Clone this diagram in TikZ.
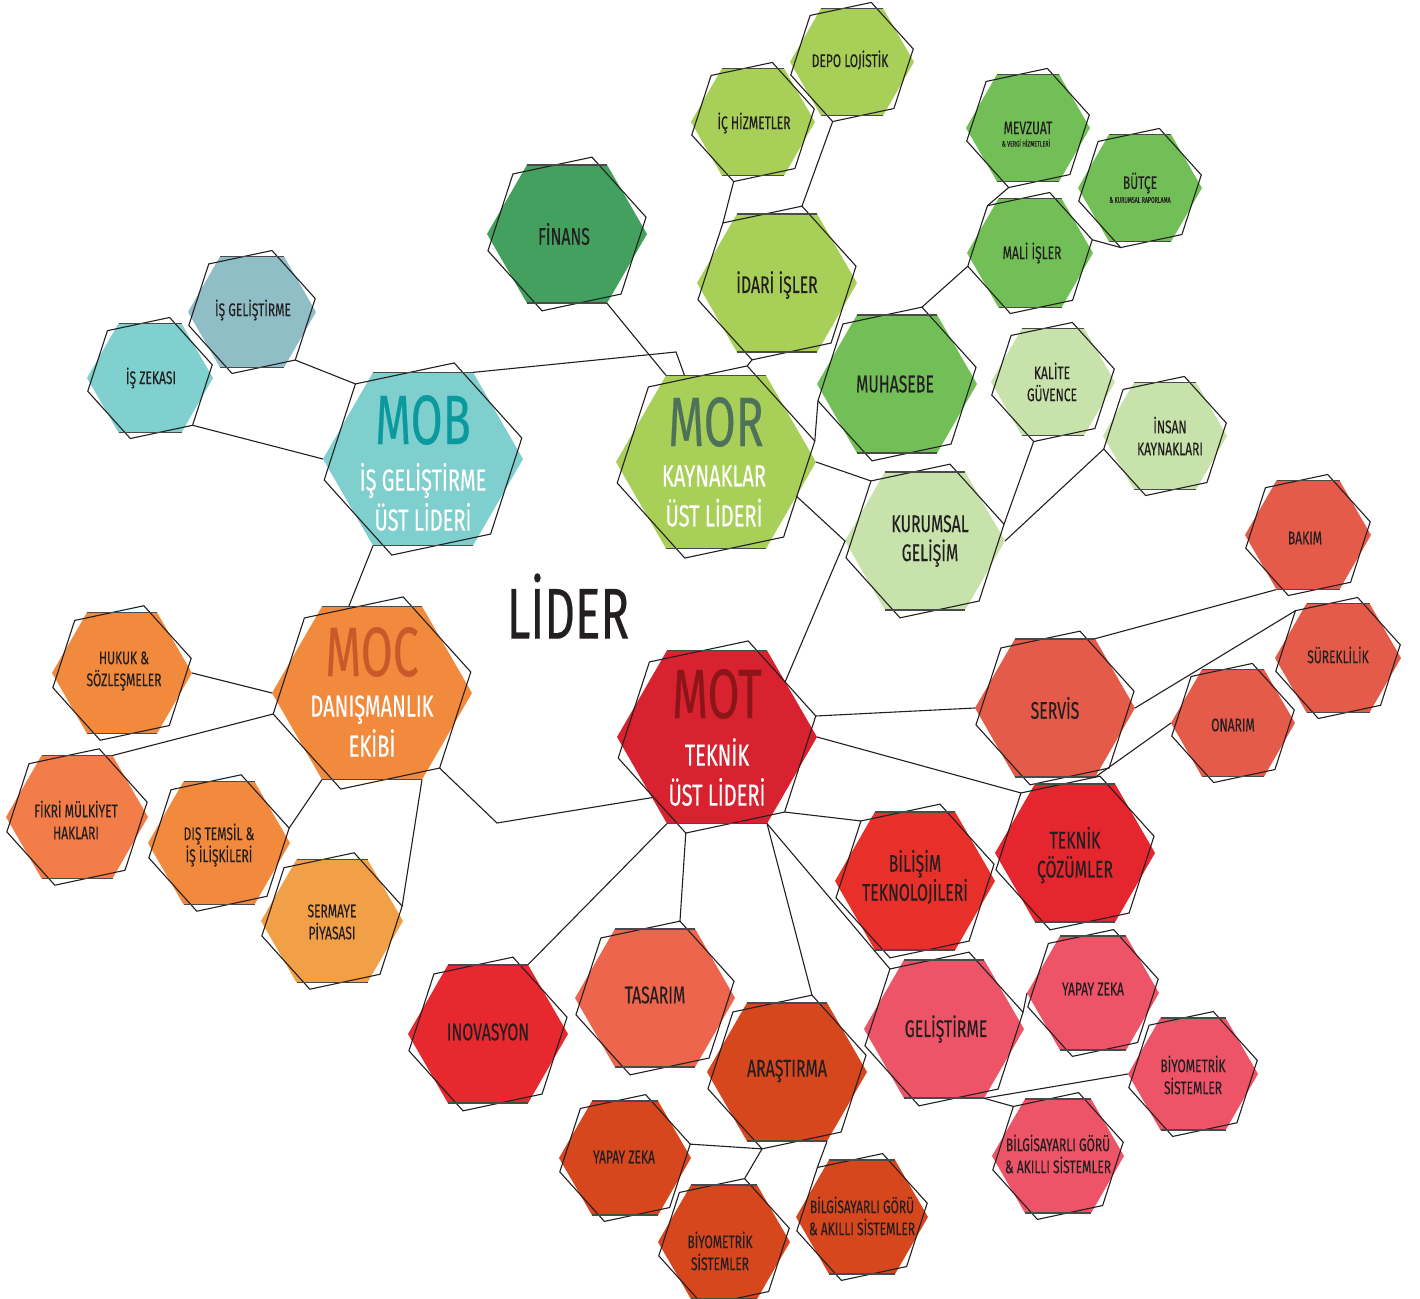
\documentclass[tikz,border=0pt]{standalone}
\usepackage{fontspec}
\setmainfont{Fira Sans}[FakeStretch=0.66,FakeBold=0.3]
\usetikzlibrary{shapes.geometric,calc}
\definecolor{ink}{HTML}{231F20}
\definecolor{edgegray}{HTML}{4A4A4A}
\definecolor{mobc}{HTML}{7FCFCF}
\definecolor{mobdark}{HTML}{0A9A9E}
\definecolor{tealc}{HTML}{80D0D0}
\definecolor{isgelc}{HTML}{8FBEC6}
\definecolor{limec}{HTML}{A8CF58}
\definecolor{mordark}{HTML}{4E7159}
\definecolor{finansc}{HTML}{43A05E}
\definecolor{greenc}{HTML}{72BF57}
\definecolor{paleg}{HTML}{C8E2AB}
\definecolor{orangec}{HTML}{F28A3D}
\definecolor{mocdark}{HTML}{C9582A}
\definecolor{fikric}{HTML}{F27D49}
\definecolor{sermc}{HTML}{F2A048}
\definecolor{motc}{HTML}{D8222F}
\definecolor{motdark}{HTML}{8B1518}
\definecolor{servc}{HTML}{E55B4A}
\definecolor{teknikc}{HTML}{E5262E}
\definecolor{bilisimc}{HTML}{E8302A}
\definecolor{inovc}{HTML}{E7292F}
\definecolor{tasarimc}{HTML}{EE654D}
\definecolor{arasc}{HTML}{D7471E}
\definecolor{gelc}{HTML}{EE5467}
\tikzset{
  hexfill/.style={regular polygon, regular polygon sides=6, fill=#1, draw=none, inner sep=0pt, outer sep=0pt},
  hexline/.style={regular polygon, regular polygon sides=6, draw=ink, line width=0.55pt, fill=none, inner sep=0pt, outer sep=0pt},
  hexedge/.style={draw=edgegray, line width=0.8pt},
  conn/.style={draw=ink, line width=0.55pt},
  ts/.style={text=ink, align=center, inner sep=0pt, font=\fontsize{9.1}{11}\selectfont},
  tm/.style={text=ink, align=center, inner sep=0pt, font=\fontsize{12}{14.5}\selectfont},
  tbig/.style={inner sep=0pt, font=\fontsize{35}{35}\selectfont},
  tsub/.style={text=white, align=center, inner sep=0pt, font=\fontsize{15.2}{20}\selectfont},
  ttiny/.style={text=ink, inner sep=0pt, font=\fontsize{4}{5}\selectfont},
}
\newcommand{\hexcell}[6]{%
  \node[hexfill=#5, minimum size=#4pt] (#1) at (#2,#3) {};
  \node[hexline, minimum size=1.01*#4pt, rotate=#6] (#1-o) at (#2,#3) {};
  \draw[hexedge] (#1.corner 2) -- (#1.corner 1) (#1.corner 4) -- (#1.corner 5);
}
\begin{document}
\begin{tikzpicture}[x=0.5pt,y=-0.5pt]
\useasboundingbox (0,0) rectangle (1420,1299);
% ---- hexagons
\hexcell{mob}{423}{459}{100}{mobc}{12}
\hexcell{isgel}{252}{312}{64}{isgelc}{12}
\hexcell{iszek}{150}{378}{63}{tealc}{12}
\hexcell{mor}{716}{462}{100}{limec}{12}
\hexcell{finans}{567}{234}{80}{finansc}{12}
\hexcell{idari}{777}{283}{80}{limec}{12}
\hexcell{ichiz}{753}{122}{62}{limec}{12}
\hexcell{depo}{852}{62}{62}{limec}{12}
\hexcell{muhasebe}{897}{384}{80}{greenc}{12}
\hexcell{mevzuat}{1028}{128}{62}{greenc}{12}
\hexcell{butce}{1140}{188}{62}{greenc}{12}
\hexcell{mali}{1030}{253}{63}{greenc}{12}
\hexcell{kalite}{1053}{382}{62}{paleg}{12}
\hexcell{insan}{1165}{436}{62}{paleg}{12}
\hexcell{kurumsal}{925}{541}{80}{paleg}{12}
\hexcell{moc}{372}{693}{100}{orangec}{12}
\hexcell{hukuk}{122}{673}{70}{orangec}{12}
\hexcell{fikri}{77}{817}{71}{fikric}{12}
\hexcell{dis}{219}{843}{71}{orangec}{12}
\hexcell{sermaye}{332}{921}{71}{sermc}{12}
\hexcell{mot}{717}{737}{100}{motc}{12}
\hexcell{bakim}{1308}{535}{63}{servc}{12}
\hexcell{surek}{1338}{658}{63}{servc}{12}
\hexcell{onarim}{1233}{723}{62}{servc}{12}
\hexcell{servis}{1055}{708}{80}{servc}{12}
\hexcell{teknik}{1075}{853}{80}{teknikc}{12}
\hexcell{bilisim}{915}{881}{80}{bilisimc}{12}
\hexcell{inov}{488}{1034}{80}{inovc}{12}
\hexcell{tasarim}{655}{998}{80}{tasarimc}{12}
\hexcell{aras}{787}{1072}{80}{arasc}{12}
\hexcell{gel}{944}{1029}{80}{gelc}{12}
\hexcell{yzA}{625}{1158}{66}{arasc}{12}
\hexcell{bioA}{724}{1242}{66}{arasc}{12}
\hexcell{bgA}{862}{1217}{66}{arasc}{12}
\hexcell{yzB}{1093}{993}{66}{gelc}{12}
\hexcell{bioB}{1193}{1074}{65}{gelc}{12}
\hexcell{bgB}{1058}{1156}{66}{gelc}{12}
% ---- connectors
\coordinate (b1) at (676,352);
\coordinate (b2) at (497,823);
\draw[conn] (isgel-o.corner 5) -- (mob-o.corner 2);
\draw[conn] (iszek-o.corner 5) -- (mob.corner 3);
\draw[conn] (mob.corner 1) -- (b1) -- (mor);
\draw[conn] (finans.corner 5) -- (mor.corner 2);
\draw[conn] (mob.corner 4) -- (moc.105);
\draw[conn] (hukuk.corner 6) -- (moc.corner 3);
\draw[conn] (fikri.corner 1) -- (moc-o.corner 3);
\draw[conn] (dis-o.corner 6) -- (moc.corner 4);
\draw[conn] (sermaye-o.corner 6) -- (moc.corner 5);
\draw[conn] (moc-o.corner 5) -- (b2) -- (mot.223);
\draw[conn] (mot.corner 4) -- (inov.corner 1);
\draw[conn] (mot-o.corner 4) -- (tasarim-o.corner 1);
\draw[conn] (mot.corner 5) -- (aras-o.corner 1);
\draw[conn] (mot.corner 5) -- (gel-o.corner 2);
\draw[conn] (mot-o.corner 5) -- (bilisim-o.corner 2);
\draw[conn] (mot-o.corner 6) -- (servis.corner 3);
\draw[conn] (mot.corner 6) -- (teknik-o.corner 2);
\draw[conn] (mor.337) -- (kurumsal.corner 3) -- (mot.39);
\draw[conn] (mor.corner 6) -- (kurumsal-o.corner 2);
\draw[conn] (mor-o.corner 6) -- (muhasebe-o.corner 3);
\draw[conn] (muhasebe-o.corner 1) -- (mali-o.corner 3);
\draw[conn] (mali-o.corner 2) -- (mevzuat-o.corner 4);
\draw[conn] (mali-o.corner 6) -- (butce-o.corner 4);
\draw[conn] (ichiz-o.corner 4) -- (idari-o.corner 2);
\draw[conn] (idari-o.corner 1) -- (depo-o.corner 4);
\draw[conn] (idari-o.corner 4) -- (mor-o.corner 1);
\draw[conn] (kurumsal-o.corner 6) -- (kalite-o.corner 4);
\draw[conn] (kurumsal.corner 6) -- (insan-o.corner 3);
\draw[conn] (servis.corner 1) -- (bakim.corner 4);
\draw[conn] (servis.corner 6) -- (surek-o.corner 2);
\draw[conn] (servis.corner 5) -- (onarim.corner 3);
\draw[conn] (yzA-o.corner 6) -- (aras-o.corner 4) -- (bioA-o.corner 1);
\draw[conn] (aras.corner 5) -- (bgA-o.corner 2);
\draw[conn] (gel-o.corner 6) -- (yzB.corner 3);
\draw[conn] (gel.corner 5) -- (bioB.corner 3);
\draw[conn] (gel.corner 5) -- (bgB-o.corner 2);
% ---- labels
\node[tbig, text=mobdark] (mob-a) at (423,420) {MOB};
\node[tsub] (mob-s) at (423,497) {İŞ GELİŞTİRME\\ÜST LİDERİ};
\node[tbig, text=mordark] (mor-a) at (716,422) {MOR};
\node[tsub] (mor-s) at (714,496) {KAYNAKLAR\\ÜST LİDERİ};
\node[tbig, text=mocdark] (moc-a) at (372,652) {MOC};
\node[tsub] (moc-s) at (372,726) {DANIŞMANLIK\\EKİBİ};
\node[tbig, text=motdark] (mot-a) at (717,694) {MOT};
\node[tsub] (mot-s) at (717,772) {TEKNİK\\ÜST LİDERİ};
\node[text=ink, inner sep=0pt, font=\fontsize{36}{36}\selectfont] (lider) at (568,606) {LİDER};
\node[ts] (isgel-t) at (253,310) {İŞ GELİŞTİRME};
\node[ts] (iszek-t) at (151,378) {İŞ ZEKASI};
\node[tm] (finans-t) at (564,234) {FİNANS};
\node[tm] (idari-t) at (777,285) {İDARİ İŞLER};
\node[ts] (ichiz-t) at (754,123) {İÇ HİZMETLER};
\node[ts] (depo-t) at (850,60) {DEPO LOJİSTİK};
\node[tm] (muhasebe-t) at (895,384) {MUHASEBE};
\node[ts] (mevzuat-t) at (1028,128) {MEVZUAT};
\node[ttiny] (mevzuat-u) at (1026,143) {\& VERGİ HİZMETLERİ};
\node[ts] (butce-t) at (1140,183) {BÜTÇE};
\node[ttiny] (butce-u) at (1140,200) {\& KURUMSAL RAPORLAMA};
\node[ts] (mali-t) at (1032,253) {MALİ İŞLER};
\node[ts] (kalite-t) at (1052,382) {KALİTE\\GÜVENCE};
\node[ts] (insan-t) at (1170,436) {İNSAN\\KAYNAKLARI};
\node[tm] (kurumsal-t) at (930,541) {KURUMSAL\\GELİŞİM};
\node[ts] (hukuk-t) at (124,671) {HUKUK \&\\SÖZLEŞMELER};
\node[ts] (fikri-t) at (76,820) {FİKRİ MÜLKİYET\\HAKLARI};
\node[ts] (dis-t) at (219,845) {DIŞ TEMSİL \&\\İŞ İLİŞKİLERİ};
\node[ts] (sermaye-t) at (332,922) {SERMAYE\\PİYASASI};
\node[ts] (bakim-t) at (1305,538) {BAKIM};
\node[ts] (surek-t) at (1338,655) {SÜREKLİLİK};
\node[ts] (onarim-t) at (1233,725) {ONARIM};
\node[tm] (servis-t) at (1055,708) {SERVİS};
\node[tm] (teknik-t) at (1075,855) {TEKNİK\\ÇÖZÜMLER};
\node[tm] (bilisim-t) at (915,877) {BİLİŞİM\\TEKNOLOJİLERİ};
\node[tm] (inov-t) at (488,1032) {INOVASYON};
\node[tm] (tasarim-t) at (655,995) {TASARIM};
\node[tm] (aras-t) at (787,1071) {ARAŞTIRMA};
\node[tm] (gel-t) at (946,1029) {GELİŞTİRME};
\node[ts] (yzA-t) at (624,1157) {YAPAY ZEKA};
\node[ts] (bioA-t) at (720,1251) {BİYOMETRİK\\SİSTEMLER};
\node[ts] (bgA-t) at (862,1216) {BİLGİSAYARLI GÖRÜ\\\& AKILLI SİSTEMLER};
\node[ts] (yzB-t) at (1093,989) {YAPAY ZEKA};
\node[ts] (bioB-t) at (1193,1075) {BİYOMETRİK\\SİSTEMLER};
\node[ts] (bgB-t) at (1058,1154) {BİLGİSAYARLI GÖRÜ\\\& AKILLI SİSTEMLER};
\end{tikzpicture}
\end{document}
